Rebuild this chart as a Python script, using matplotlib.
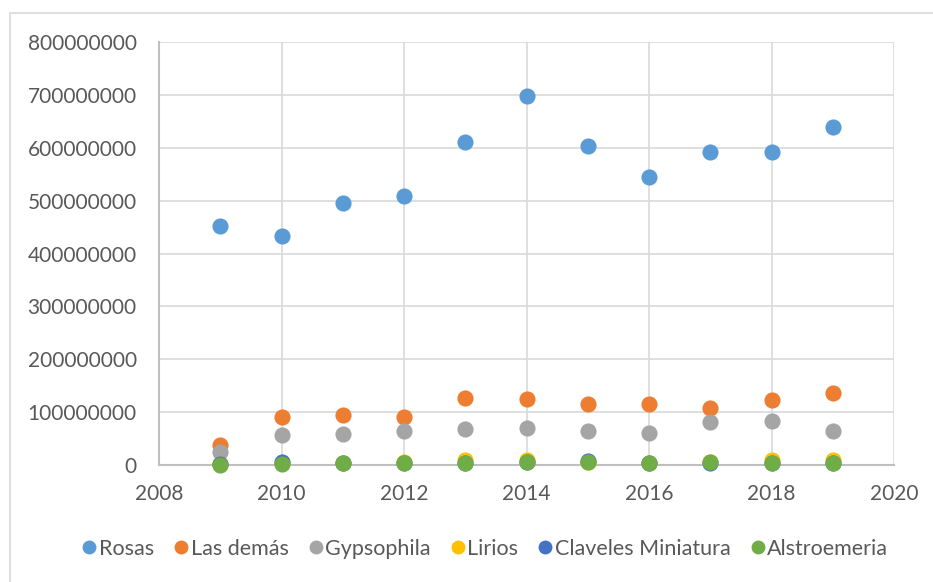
import matplotlib
matplotlib.use("Agg")
import matplotlib.pyplot as plt
from matplotlib.patches import Rectangle
from matplotlib.lines import Line2D

plt.rcParams['font.family'] = ['Lato', 'DejaVu Sans']

years = [2009, 2010, 2011, 2012, 2013, 2014, 2015, 2016, 2017, 2018, 2019]

rosas = [452e6, 433e6, 495e6, 508e6, 611e6, 698e6, 604e6, 545e6, 592e6, 592e6, 639e6]
las_demas = [38e6, 90e6, 95e6, 90e6, 126e6, 124e6, 116e6, 116e6, 108e6, 123e6, 136e6]
gypsophila = [25e6, 57e6, 59e6, 65e6, 69e6, 70e6, 64e6, 61e6, 82e6, 84e6, 64e6]
lirios = [1e6, 3e6, 4e6, 6e6, 9e6, 9e6, 5e6, 4e6, 6e6, 9e6, 9e6]
claveles = [1e6, 5e6, 4e6, 4e6, 4e6, 5e6, 7e6, 3e6, 4e6, 3e6, 3e6]
alstroemeria = [0.5e6, 2e6, 4e6, 4e6, 4e6, 5e6, 5e6, 4e6, 5e6, 4e6, 4e6]

series = [
    ("Rosas", rosas, "#5b9bd5"),
    ("Las demás", las_demas, "#ed7d31"),
    ("Gypsophila", gypsophila, "#a5a5a5"),
    ("Lirios", lirios, "#ffc000"),
    ("Claveles Miniatura", claveles, "#4472c4"),
    ("Alstroemeria", alstroemeria, "#70ad47"),
]

fig = plt.figure(figsize=(9.33, 5.82), dpi=100)
fig.patches.append(Rectangle((10 / 933, -0.1), 1.2, 0.9777 + 0.1,
                             transform=fig.transFigure, fill=False,
                             edgecolor="#d9d9d9", linewidth=1.2, zorder=0))

ax = fig.add_axes([159 / 933, 1 - 465 / 582, (894 - 159) / 933, (465 - 42) / 582])

for name, vals, col in series:
    ax.scatter(years, vals, s=135, color=col, label=name, zorder=3,
               linewidths=0, clip_on=False)

ax.set_xlim(2008, 2020)
ax.set_ylim(0, 800e6)
ax.set_xticks(range(2008, 2021, 2))
ax.set_yticks(range(0, 800000001, 100000000))
ax.set_yticklabels([str(v) for v in range(0, 800000001, 100000000)])
ax.grid(True, color="#d9d9d9", linewidth=1.2, zorder=0)
ax.set_axisbelow(True)
for s in ("top", "right"):
    ax.spines[s].set_visible(False)
for s in ("left", "bottom"):
    ax.spines[s].set_color("#bfbfbf")
    ax.spines[s].set_linewidth(1.5)
ax.tick_params(axis="both", length=0, labelsize=15, labelcolor="#595959")
ax.tick_params(axis="y", pad=16)
ax.tick_params(axis="x", pad=14)

handles = [Line2D([], [], marker="o", linestyle="", markersize=10,
                  markerfacecolor=c, markeredgewidth=0) for _, _, c in series]
fig.legend(handles, [n for n, _, _ in series], loc="center",
           bbox_to_anchor=(484 / 933, 1 - 549 / 582), ncol=6, frameon=False,
           fontsize=15.5, labelcolor="#595959", handletextpad=0.0,
           columnspacing=0.8, handlelength=0.9, borderaxespad=0)

fig.savefig("out.png", dpi=100, facecolor="white")
